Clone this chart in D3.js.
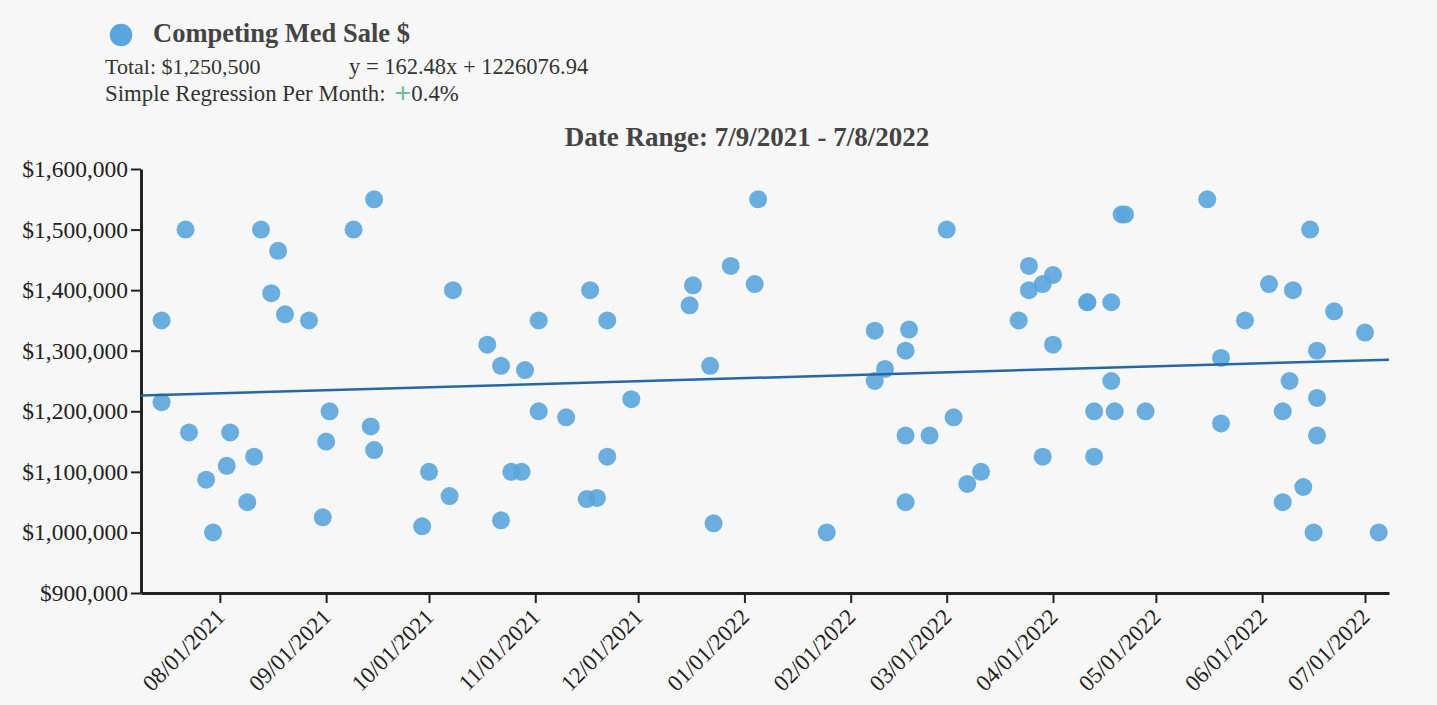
<!DOCTYPE html>
<html>
<head>
<meta charset="utf-8">
<script src="https://cdn.jsdelivr.net/npm/d3@7"></script>
<style>
  html, body { margin: 0; padding: 0; background: #f7f7f7; }
  svg { display: block; }
  text { font-family: "Liberation Serif", "Times New Roman", serif; }
</style>
</head>
<body>
<svg id="chart" width="1437" height="705"></svg>
<script>
// ---- data ----
const seriesName = "Competing Med Sale $";
const totalLabel = "Total: $1,250,500";
const regressionSlope = 162.48;
const regressionIntercept = 1226076.94;
const regressionPerMonth = "0.4%";
const dateRangeStart = "07/09/2021";
const dateRangeEnd = "07/08/2022";
const yTickValues = [900000, 1000000, 1100000, 1200000, 1300000, 1400000, 1500000, 1600000];

const saleDates = [
  "07/15/2021","07/15/2021","07/22/2021","07/23/2021","07/28/2021","07/30/2021",
  "08/03/2021","08/04/2021","08/09/2021","08/11/2021","08/13/2021","08/16/2021",
  "08/18/2021","08/20/2021","08/27/2021","08/31/2021","09/01/2021","09/02/2021",
  "09/09/2021","09/14/2021","09/15/2021","09/15/2021","09/29/2021","10/01/2021",
  "10/07/2021","10/08/2021","10/18/2021","10/22/2021","10/22/2021","10/25/2021",
  "10/28/2021","10/29/2021","11/02/2021","11/02/2021","11/10/2021","11/16/2021",
  "11/17/2021","11/19/2021","11/22/2021","11/22/2021","11/29/2021","12/16/2021",
  "12/17/2021","12/22/2021","12/23/2021","12/28/2021","01/04/2022","01/05/2022",
  "01/25/2022","02/08/2022","02/08/2022","02/11/2022","02/17/2022","02/17/2022",
  "02/17/2022","02/18/2022","02/24/2022","03/01/2022","03/03/2022","03/07/2022",
  "03/11/2022","03/22/2022","03/25/2022","03/25/2022","03/29/2022","03/29/2022",
  "04/01/2022","04/01/2022","04/11/2022","04/11/2022","04/13/2022","04/13/2022",
  "04/18/2022","04/18/2022","04/19/2022","04/21/2022","04/22/2022","04/28/2022",
  "05/16/2022","05/20/2022","05/20/2022","05/27/2022","06/03/2022","06/07/2022",
  "06/07/2022","06/09/2022","06/10/2022","06/13/2022","06/15/2022","06/16/2022",
  "06/17/2022","06/17/2022","06/17/2022","06/22/2022","07/01/2022","07/05/2022"
];
const salePrices = [
  1350000,1215000,1500000,1165000,1087000,1000000,
  1110000,1165000,1050000,1125000,1500000,1395000,
  1465000,1360000,1350000,1025000,1150000,1200000,
  1500000,1175000,1550000,1136000,1010000,1100000,
  1060000,1400000,1310000,1275000,1020000,1100000,
  1100000,1268000,1350000,1200000,1190000,1055000,
  1400000,1057000,1350000,1125000,1220000,1375000,
  1408000,1275000,1015000,1440000,1410000,1550000,
  1000000,1333000,1250000,1270000,1300000,1160000,
  1050000,1335000,1160000,1500000,1190000,1080000,
  1100000,1350000,1440000,1400000,1410000,1125000,
  1425000,1310000,1380000,1380000,1200000,1125000,
  1380000,1250000,1200000,1525000,1525000,1200000,
  1550000,1288000,1180000,1350000,1410000,1200000,
  1050000,1250000,1400000,1075000,1500000,1000000,
  1300000,1222000,1160000,1365000,1330000,1000000
];

// ---- layout ----
const svg = d3.select("#chart");
const mLeft = 141, mRight = 1389, mTop = 169, mBottom = 593;
const parse = d3.timeParse("%m/%d/%Y");
const fmtDate = d3.timeFormat("%-m/%-d/%Y");
const startDate = parse(dateRangeStart), endDate = parse(dateRangeEnd);

const x = d3.scaleTime().domain([startDate, endDate]).range([mLeft, mRight]);
const y = d3.scaleLinear().domain([900000, 1600000]).range([mBottom, mTop]);

const points = saleDates.map((d, i) => ({ date: parse(d), value: salePrices[i] }));

// ---- header ----
svg.append("circle").attr("cx", 121).attr("cy", 35).attr("r", 11.2).attr("fill", "#5aa5dd");
svg.append("text").attr("x", 153).attr("y", 42)
  .attr("font-size", 26.5).attr("font-weight", "bold").attr("fill", "#444")
  .text(seriesName);
svg.append("text").attr("x", 105).attr("y", 74).attr("font-size", 22).attr("fill", "#333")
  .text(totalLabel);
svg.append("text").attr("x", 349).attr("y", 74).attr("font-size", 22.5).attr("fill", "#333")
  .text(`y = ${regressionSlope}x + ${regressionIntercept}`);
const simple = svg.append("text").attr("x", 105).attr("y", 101).attr("font-size", 22.8).attr("fill", "#333");
simple.append("tspan").text("Simple Regression Per Month: ");
simple.append("tspan").attr("fill", "#6cc19c").attr("font-size", 30).attr("font-weight", "bold")
  .attr("dx", 3).attr("dy", 2).text("+");
simple.append("tspan").attr("dy", -2).text(regressionPerMonth);

// title
svg.append("text").attr("x", 747).attr("y", 146).attr("text-anchor", "middle")
  .attr("font-size", 27).attr("font-weight", "bold").attr("fill", "#444")
  .text(`Date Range: ${fmtDate(startDate)} - ${fmtDate(endDate)}`);

// ---- axes ----
const yAxis = svg.append("g").attr("transform", `translate(${mLeft},0)`)
  .call(d3.axisLeft(y).tickValues(yTickValues).tickFormat(d3.format("$,")).tickSize(10).tickPadding(3).tickSizeOuter(0));
yAxis.select(".domain").attr("stroke", "#222").attr("stroke-width", 3);
yAxis.selectAll(".tick line").attr("stroke", "#222").attr("stroke-width", 2);
yAxis.selectAll("text").attr("font-size", 23.5).attr("fill", "#222")
  .attr("font-family", "Liberation Serif, Times New Roman, serif");

const xAxis = svg.append("g").attr("transform", `translate(0,${mBottom})`)
  .call(d3.axisBottom(x).ticks(d3.timeMonth.every(1)).tickFormat(d3.timeFormat("%m/%d/%Y")).tickSize(10).tickSizeOuter(0));
xAxis.select(".domain").attr("stroke", "#222").attr("stroke-width", 3);
xAxis.selectAll(".tick line").attr("stroke", "#222").attr("stroke-width", 2);
xAxis.selectAll("text").attr("font-size", 23).attr("fill", "#222")
  .attr("font-family", "Liberation Serif, Times New Roman, serif")
  .attr("text-anchor", "end").attr("x", -14).attr("y", 22).attr("dy", 0)
  .attr("transform", "rotate(-45)");

// ---- points ----
svg.append("g").selectAll("circle").data(points).join("circle")
  .attr("cx", d => x(d.date)).attr("cy", d => y(d.value)).attr("r", 9)
  .attr("fill", "#5aa5dd").attr("fill-opacity", 0.9);

// ---- regression line ----
const dayMs = 86400000;
const totalDays = Math.round((endDate - startDate) / dayMs);
const lineData = [0, totalDays].map(dd => ({
  date: new Date(startDate.getTime() + dd * dayMs),
  value: regressionSlope * dd + regressionIntercept
}));
svg.append("path").datum(lineData)
  .attr("d", d3.line().x(d => x(d.date)).y(d => y(d.value)))
  .attr("fill", "none").attr("stroke", "#2468a6").attr("stroke-width", 2.5);
</script>
</body>
</html>
